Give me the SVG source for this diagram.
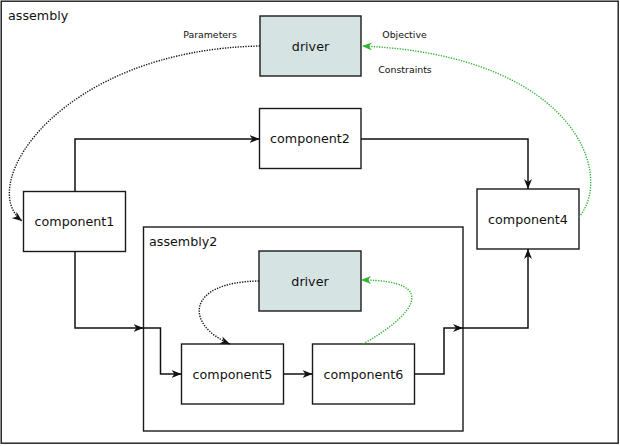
<svg xmlns="http://www.w3.org/2000/svg" width="620" height="446" viewBox="0 0 620 446">
<style>
.box{fill:#ffffff;stroke:#1a1a1a;stroke-width:1.4}
.drv{fill:#d6e3e3;stroke:#1a1a1a;stroke-width:1.4}
.frame{fill:none;stroke:#1a1a1a;stroke-width:1.4}
.lbl{font-family:"DejaVu Sans",sans-serif;font-size:12.7px;fill:#111}
.mid{text-anchor:middle}
.small{font-family:"DejaVu Sans",sans-serif;font-size:9.4px;fill:#111}
.flow{fill:none;stroke:#111;stroke-width:1.5}
.dot{fill:none;stroke:#111;stroke-width:1.4;stroke-dasharray:1.3 1.3}
.gdot{fill:none;stroke:#33b533;stroke-width:1.4;stroke-dasharray:1.3 1.3}
</style>
<defs>
<marker id="ab" viewBox="0 0 10 8" markerWidth="10" markerHeight="8" refX="10" refY="4" orient="auto" markerUnits="userSpaceOnUse">
<path d="M0,0 L10,4 L0,8 L3,4 z" fill="#111"/>
</marker>
<marker id="ag" viewBox="0 0 10 8" markerWidth="10" markerHeight="8" refX="10" refY="4" orient="auto" markerUnits="userSpaceOnUse">
<path d="M0,0 L10,4 L0,8 L3,4 z" fill="#33b533"/>
</marker>
</defs>
<rect x="0" y="0" width="620" height="446" fill="#ffffff"/>
<g id="assembly">
<rect class="frame" x="1.2" y="1.2" width="617" height="442"/>
<text class="lbl" x="8" y="20">assembly</text>
</g>
<g id="assembly2">
<rect class="frame" x="143.5" y="227" width="319.5" height="204"/>
<text class="lbl" x="149" y="246">assembly2</text>
</g>
<g id="driver">
<rect class="drv" x="260" y="16" width="101" height="60"/>
<text class="lbl mid" x="310.5" y="50.5">driver</text>
</g>
<g id="component2">
<rect class="box" x="259.5" y="108.5" width="101.5" height="60"/>
<text class="lbl mid" x="310" y="142.5">component2</text>
</g>
<g id="component1">
<rect class="box" x="23.5" y="191.5" width="102" height="60"/>
<text class="lbl mid" x="74.5" y="226">component1</text>
</g>
<g id="component4">
<rect class="box" x="477" y="189" width="102" height="60"/>
<text class="lbl mid" x="528" y="223.5">component4</text>
</g>
<g id="driver2">
<rect class="drv" x="259" y="251" width="102" height="60"/>
<text class="lbl mid" x="310" y="285.5">driver</text>
</g>
<g id="component5">
<rect class="box" x="181.5" y="344" width="102" height="60"/>
<text class="lbl mid" x="232.5" y="378.5">component5</text>
</g>
<g id="component6">
<rect class="box" x="312.5" y="344" width="102" height="60"/>
<text class="lbl mid" x="363.5" y="378.5">component6</text>
</g>
<g id="connectors">
<path class="flow" d="M75,191.5 V139 H259.5" marker-end="url(#ab)"/>
<path class="flow" d="M361,139 H528 V189" marker-end="url(#ab)"/>
<path class="flow" d="M75,251.5 V328 H143.5" marker-end="url(#ab)"/>
<path class="flow" d="M143.5,328 H160.5 V374 H181.5" marker-end="url(#ab)"/>
<path class="flow" d="M283.5,374 H312.5" marker-end="url(#ab)"/>
<path class="flow" d="M414.5,374 H444 V328 H463" marker-end="url(#ab)"/>
<path class="flow" d="M463,328 H528 V249" marker-end="url(#ab)"/>
<path class="dot" d="M260,46 C60,50 -25,185 22,221" marker-end="url(#ab)"/>
<path class="gdot" d="M579,217 C615,175 575,55 362,46" marker-end="url(#ag)"/>
<path class="dot" d="M259,281 C185,282 185,325 230,344" marker-end="url(#ab)"/>
<path class="gdot" d="M363,344 C410,318 445,280 361,280" marker-end="url(#ag)"/>
<text class="small mid" x="210" y="37.5">Parameters</text>
<text class="small mid" x="404.5" y="37.5">Objective</text>
<text class="small mid" x="405" y="73">Constraints</text>
</g>
</svg>
